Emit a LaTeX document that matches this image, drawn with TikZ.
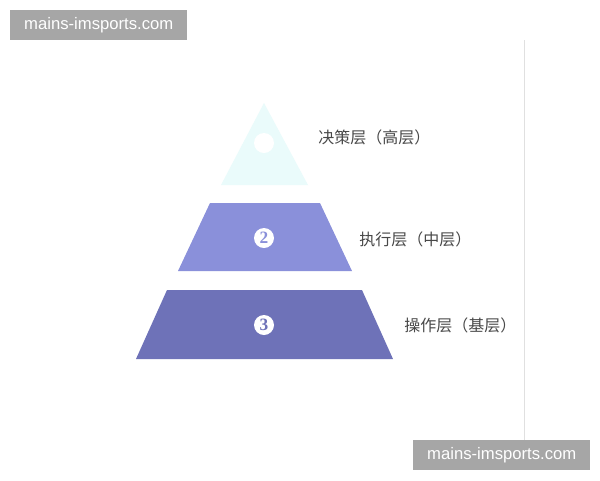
\documentclass[tikz,border=0pt]{standalone}
\usepackage{fontspec}
\setmainfont{Liberation Sans}
\newfontfamily\cjk{Noto Sans CJK SC}
\newfontfamily\badgefont{Liberation Serif}
\definecolor{topfill}{RGB}{234,251,251}
\definecolor{midfill}{RGB}{138,144,218}
\definecolor{basefill}{RGB}{110,114,184}
\definecolor{labelgray}{RGB}{72,72,72}
\definecolor{markgray}{RGB}{166,166,166}
\begin{document}
\begin{tikzpicture}[x=0.75pt,y=0.75pt,yscale=-1,xscale=1]
\tikzset{
  layerlabel/.style={anchor=west,inner sep=0.75pt,text=labelgray,font=\cjk\fontsize{12}{13}\selectfont},
  badge/.style={circle,fill=white,inner sep=0pt,minimum size=15pt,font=\badgefont\bfseries\fontsize{13}{13}\selectfont},
  watermark/.style={fill=markgray,text=white,inner sep=0pt,minimum width=132.75pt,minimum height=22.5pt,font=\fontsize{12.5}{13}\selectfont}
}
%set diagram frame
\useasboundingbox (0,0) rectangle (600,480);
\fill [white] (0,0) rectangle (600,480);

%Straight Lines
\draw [color={rgb, 255:red, 224; green, 224; blue, 224 }, line width=0.75] (524,40) -- (524,440);

%Shape: Triangle
\fill [topfill] (264,103) -- (308,185) -- (221,185) -- cycle;
%Shape: Trapezoid
\fill [midfill] (210,203) -- (320,203) -- (352,271) -- (178,271) -- cycle;
%Shape: Trapezoid
\fill [basefill] (167,290) -- (362,290) -- (393,359) -- (136,359) -- cycle;

% Badges
\node [badge] (b1) at (264,143) {};
\node [badge, text=midfill] (b2) at (264,238) {2};
\node [badge, text=basefill] (b3) at (264,325) {3};

% Text Node
\node [layerlabel] (l1) at (317,137) {决策层（高层）};
% Text Node
\node [layerlabel] (l2) at (358,239) {执行层（中层）};
% Text Node
\node [layerlabel] (l3) at (403,325) {操作层（基层）};

% Watermarks
\node [watermark, anchor=north west] (w1) at (10,10) {mains-imsports.com};
\node [watermark, anchor=north west] (w2) at (413,440) {mains-imsports.com};
\end{tikzpicture}
\end{document}
